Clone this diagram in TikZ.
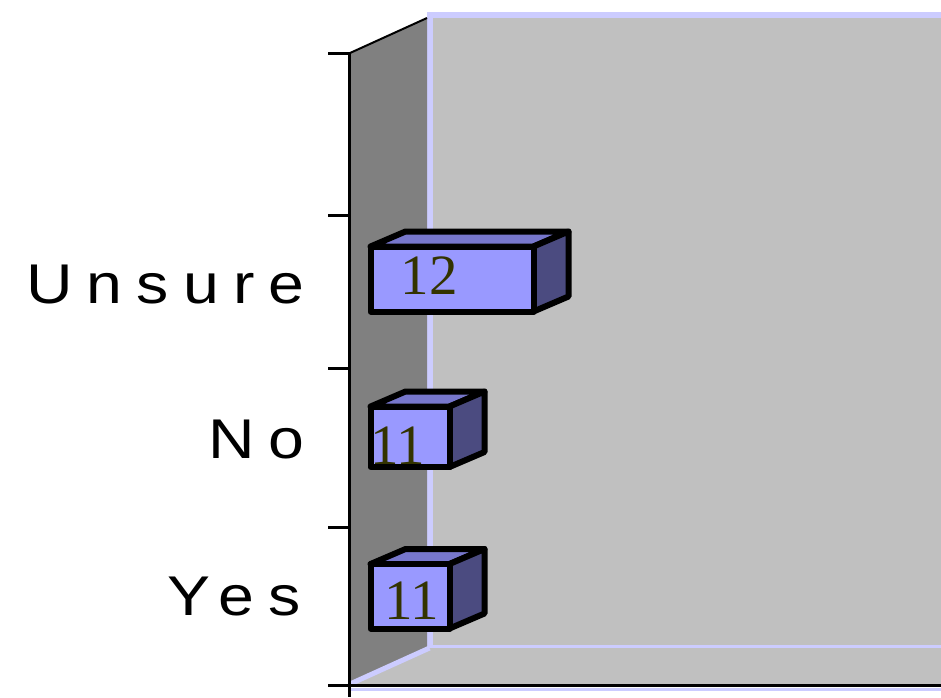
\documentclass[tikz,border=0pt]{standalone}
\usepackage{fontspec}
\newfontfamily\labfont[LetterSpace=22]{Liberation Sans}
\newfontfamily\numfont{Liberation Serif}
\definecolor{wallback}{HTML}{C0C0C0}
\definecolor{wallside}{HTML}{808080}
\definecolor{rim}{HTML}{CCCCFF}
\definecolor{barfront}{HTML}{9999FF}
\definecolor{bartop}{HTML}{7777CC}
\definecolor{barside}{HTML}{4B4B80}
\definecolor{numcol}{HTML}{333300}
\tikzset{
  cat/.style={anchor=base east, inner sep=0pt, xscale=1.15, font=\labfont\fontsize{56}{60}\selectfont},
  val/.style={anchor=base, inner sep=0pt, text=numcol, font=\numfont\fontsize{57}{60}\selectfont},
  boxline/.style={draw=black, line width=6pt, line join=round},
  axisline/.style={draw=black, line width=3pt},
  rimline/.style={draw=rim, line width=6pt},
}
\newcommand{\drawbox}[4]{%
  \filldraw[boxline, fill=bartop] (#1,#2) -- ({#1+35},{#2-15}) -- ({#3+35},{#2-15}) -- (#3,#2) -- cycle;
  \filldraw[boxline, fill=barside] (#3,#2) -- ({#3+35},{#2-15}) -- ({#3+35},{#4-15}) -- (#3,#4) -- cycle;
  \filldraw[boxline, fill=barfront] (#1,#2) rectangle (#3,#4);
}
\begin{document}
\begin{tikzpicture}[x=1pt,y=-1pt]
\useasboundingbox (0,0) rectangle (941,697);
% back wall
\fill[wallback] (430,14) rectangle (941,648);
\draw[rimline] (941,14.5) -- (429.5,14.5) -- (429.5,648) -- (941,648);
% floor
\fill[wallback] (350,685) -- (429.5,648) -- (941,648) -- (941,685) -- cycle;
% left wall
\fill[wallside] (350,53) -- (427,18) -- (427,648) -- (350,684) -- cycle;
\draw[rim, line width=5pt] (350,684) -- (429.5,648);
\draw[black, line width=2pt] (350,53) -- (427,18);
\draw[rim, line width=3pt] (350,689) -- (941,689);
% axes
\draw[axisline] (349.5,52) -- (349.5,697);
\draw[axisline] (328,685.5) -- (941,685.5);
\foreach \ty in {53,215,368,527} {\draw[axisline] (328,\ty) -- (349.5,\ty);}
% bars
\drawbox{370.5}{246.5}{533.5}{311.5}
\drawbox{370.5}{406.5}{449.5}{467}
\drawbox{370.5}{564}{449.5}{628.5}
\node[val] (v1) at (429,294) {12};
\node[val] (v2) at (398,464) {11};
\node[val] (v3) at (412,619) {11};
% category labels
\node[cat] (unsure) at (305,303) {Unsure};
\node[cat] (no) at (305,458) {No};
\node[cat] (yes) at (301,615) {Yes};
\end{tikzpicture}
\end{document}
